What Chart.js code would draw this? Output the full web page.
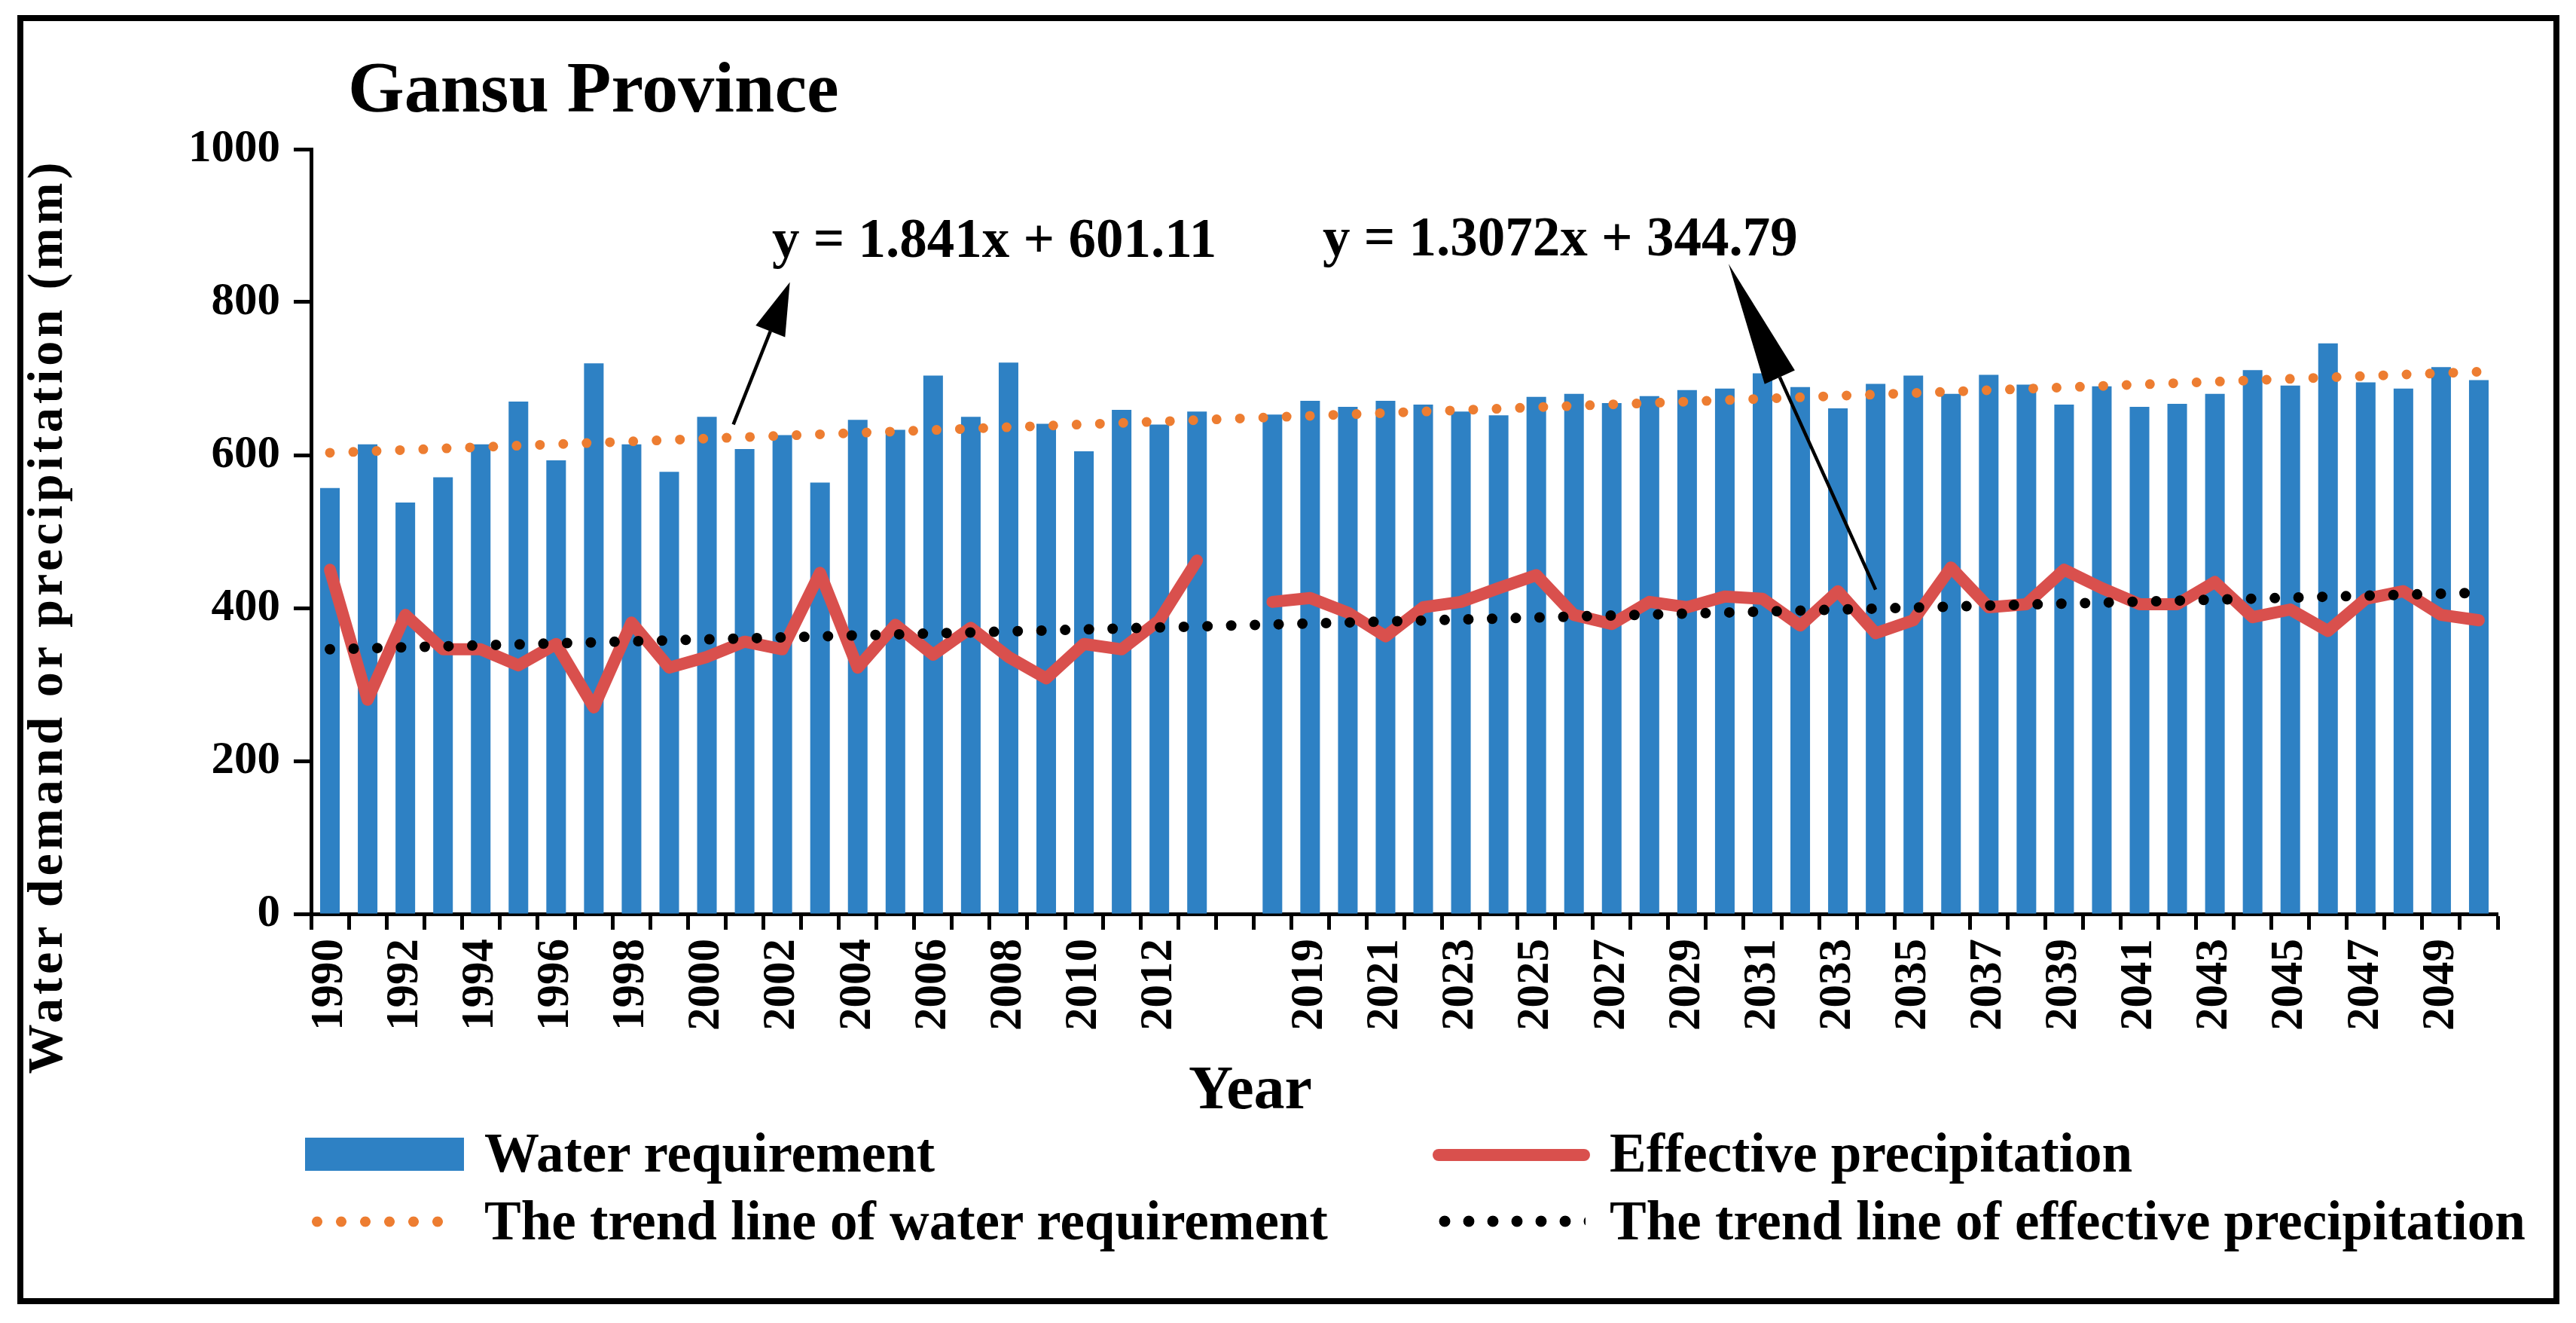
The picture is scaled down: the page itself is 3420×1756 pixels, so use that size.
<!DOCTYPE html>
<html lang="en">
<head>
<meta charset="UTF-8">
<title>Gansu Province</title>
<script src="https://cdn.jsdelivr.net/npm/chart.js"></script>
<style>
  html, body { margin: 0; padding: 0; background: #fff; }
  #wrap { position: relative; width: 3420px; height: 1756px; overflow: hidden;
          font-family: "Liberation Serif", "Times New Roman", serif; font-weight: bold; color: #000; }
  #chart { position: absolute; left: 0; top: 0; }
  .frame { position: absolute; left: 23px; top: 20px; width: 3375px; height: 1711px;
           border: 8px solid #000; box-sizing: border-box; pointer-events: none; }
  .txt { position: absolute; white-space: nowrap; line-height: 1; }
  .ytitle { position: absolute; white-space: nowrap; line-height: 1; font-size: 66px; letter-spacing: 5px;
            transform: translate(-50%, -50%) rotate(-90deg); }
  .sw { position: absolute; }
</style>
</head>
<body>
<div id="wrap">
  <canvas id="chart" width="3420" height="1756"></canvas>
  <div class="frame"></div>
  <div class="ytitle" style="left:60px; top:818px;">Water demand or precipitation (mm)</div>
</div>

<script>
    // categories (one empty slot between 2013 and 2018)
    const categories = ['1990', '1991', '1992', '1993', '1994', '1995', '1996', '1997', '1998', '1999',
        '2000', '2001', '2002', '2003', '2004', '2005', '2006', '2007', '2008', '2009',
        '2010', '2011', '2012', '2013', '',
        '2018', '2019', '2020', '2021', '2022', '2023', '2024', '2025', '2026', '2027',
        '2028', '2029', '2030', '2031', '2032', '2033', '2034', '2035', '2036', '2037',
        '2038', '2039', '2040', '2041', '2042', '2043', '2044', '2045', '2046', '2047',
        '2048', '2049', '2050']

    const waterRequirement = [557, 614, 538, 571, 614, 670, 593, 720, 614, 578,
        650, 608, 626, 564, 646, 633, 704, 650, 721, 641,
        605, 659, 640, 657, null,
        653, 671, 663, 671, 666, 657, 652, 676, 680, 668,
        677, 685, 687, 707, 689, 661, 693, 704, 680, 705,
        692, 666, 690, 663, 667, 680, 711, 691, 746, 695,
        687, 715, 698]

    const effectivePrecipitation = [450, 280, 391, 346, 346, 325, 353, 270, 381, 322,
        336, 356, 346, 446, 322, 378, 339, 374, 336, 308,
        353, 346, 384, 462, null,
        408, 413, 394, 363, 401, 408, 426, 443, 391, 379,
        408, 401, 415, 412, 377, 422, 367, 384, 453, 401,
        405, 450, 426, 405, 405, 434, 388, 398, 370, 412,
        422, 391, 384]

    // trend lines: value at the first and at the last category
    const trendWaterEnds = [603, 709]
    const trendPrecipEnds = [346, 420]

    const yTicks = [0, 200, 400, 600, 800, 1000]

    const equations = ['y = 1.841x + 601.11', 'y = 1.3072x + 344.79']

    // arrows from trend line to equation, [category index, value]
    const arrows = [
        { from: [10.7, 640], to: [12.2, 826], headLen: 70, headWidth: 42 },
        { from: [41.0, 424], to: [37.1, 850], headLen: 165, headWidth: 44 }
    ]

    const last = categories.length - 1
    function ends(pair) {
        return categories.map(function (c, i) {
            if (i == 0) return pair[0]
            if (i == last) return pair[1]
            return null
        })
    }

    const FONT = '"Liberation Serif", "Times New Roman", serif'
    const wrap = document.getElementById('wrap')

    // place a text so its baseline sits at y
    function putText(text, left, baseline, size) {
        var d = document.createElement('div')
        d.className = 'txt'
        d.textContent = text
        d.style.fontSize = size + 'px'
        d.style.left = left + 'px'
        d.style.top = (baseline - 0.8375 * size) + 'px'
        wrap.appendChild(d)
        return d
    }

    putText('Gansu Province', 462, 148, 96)
    putText(equations[0], 1025, 341, 73)
    putText(equations[1], 1756, 339, 73)
    putText('Year', 1578, 1472, 82)

    const arrowPlugin = {
        id: 'eqArrows',
        afterDatasetsDraw(chart) {
            const ctx = chart.ctx
            const x = chart.scales.x, y = chart.scales.y
            ctx.save()
            ctx.fillStyle = '#000'
            ctx.strokeStyle = '#000'
            ctx.lineWidth = 4.5
            arrows.forEach(function (a) {
                const x0 = x.getPixelForValue(a.from[0]), y0 = y.getPixelForValue(a.from[1])
                const x1 = x.getPixelForValue(a.to[0]), y1 = y.getPixelForValue(a.to[1])
                const ang = Math.atan2(y1 - y0, x1 - x0)
                const bx = x1 - a.headLen * Math.cos(ang), by = y1 - a.headLen * Math.sin(ang)
                ctx.beginPath()
                ctx.moveTo(x0, y0)
                ctx.lineTo(bx, by)
                ctx.stroke()
                const nx = -Math.sin(ang) * a.headWidth / 2, ny = Math.cos(ang) * a.headWidth / 2
                ctx.beginPath()
                ctx.moveTo(x1, y1)
                ctx.lineTo(bx + nx, by + ny)
                ctx.lineTo(bx - nx, by - ny)
                ctx.closePath()
                ctx.fill()
            })
            ctx.restore()
        }
    }

    const BLUE = '#2e81c4'
    const RED = '#d9504d'
    const ORANGE = '#ed7d31'

    const chart = new Chart(document.getElementById('chart'), {
        type: 'bar',
        data: {
            labels: categories,
            datasets: [{
                type: 'bar',
                label: 'Water requirement',
                data: waterRequirement,
                backgroundColor: BLUE,
                categoryPercentage: 1,
                barPercentage: 0.52,
                order: 4
            }, {
                type: 'line',
                label: 'Effective precipitation',
                data: effectivePrecipitation,
                borderColor: RED,
                borderWidth: 16,
                borderCapStyle: 'round',
                borderJoinStyle: 'round',
                pointRadius: 0,
                spanGaps: false,
                tension: 0,
                order: 3
            }, {
                type: 'line',
                label: 'The trend line of water requirement',
                data: ends(trendWaterEnds),
                borderColor: ORANGE,
                borderWidth: 13,
                borderDash: [0, 31],
                borderCapStyle: 'round',
                pointRadius: 0,
                spanGaps: true,
                order: 2
            }, {
                type: 'line',
                label: 'The trend line of effective precipitation',
                data: ends(trendPrecipEnds),
                borderColor: '#000',
                borderWidth: 14,
                borderDash: [0, 31.5],
                borderCapStyle: 'round',
                pointRadius: 0,
                spanGaps: true,
                order: 1
            }]
        },
        options: {
            responsive: false,
            animation: false,
            devicePixelRatio: 1,
            layout: { padding: { top: 198, right: 104, bottom: 0, left: 0 } },
            scales: {
                x: {
                    offset: true,
                    afterFit: function (s) { s.height = 543 },
                    border: { display: true, color: '#000', width: 5 },
                    grid: { display: true, offset: true, drawOnChartArea: false, drawTicks: true,
                        tickLength: 21, tickWidth: 5, tickColor: '#000' },
                    ticks: {
                        autoSkip: false, minRotation: 90, maxRotation: 90, padding: 12,
                        color: '#000', font: { family: FONT, size: 61, weight: 'bold' },
                        callback: function (v, i) { return i % 2 == 0 ? categories[i] : '' }
                    }
                },
                y: {
                    min: 0,
                    max: 1000,
                    afterFit: function (s) { s.width = 413 },
                    afterBuildTicks: function (s) { s.ticks = yTicks.map(function (v) { return { value: v } }) },
                    border: { display: true, color: '#000', width: 5 },
                    grid: { display: true, drawOnChartArea: false, drawTicks: true,
                        tickLength: 23, tickWidth: 5, tickColor: '#000' },
                    ticks: {
                        padding: 18, color: '#000', font: { family: FONT, size: 61, weight: 'bold' },
                        callback: function (v) { return String(v) }
                    }
                }
            },
            plugins: {
                legend: { display: false },
                tooltip: { enabled: false },
                title: { display: false }
            }
        },
        plugins: [arrowPlugin]
    })

    // legend built from the datasets
    const slots = [
        { kind: 'box', x: 405, w: 211, cy: 1532, tx: 643, base: 1555 },
        { kind: 'line', x: 1902, w: 209, cy: 1533, tx: 2137, base: 1555 },
        { kind: 'dots', x: 405, w: 200, cy: 1621, tx: 643, base: 1645, gap: 32, r: 6.5 },
        { kind: 'dots', x: 1902, w: 203, cy: 1621, tx: 2137, base: 1645, gap: 32, r: 7 }
    ]
    chart.data.datasets.forEach(function (ds, i) {
        var s = slots[i]
        var sw = document.createElement('div')
        sw.className = 'sw'
        sw.style.left = s.x + 'px'
        sw.style.width = s.w + 'px'
        if (s.kind == 'box') {
            sw.style.top = (s.cy - 22) + 'px'
            sw.style.height = '44px'
            sw.style.background = ds.backgroundColor
        } else if (s.kind == 'line') {
            sw.style.top = (s.cy - 8) + 'px'
            sw.style.height = '16px'
            sw.style.borderRadius = '8px'
            sw.style.background = ds.borderColor
        } else {
            var h = s.r * 2 + 2
            sw.style.top = (s.cy - h / 2) + 'px'
            sw.style.height = h + 'px'
            sw.style.backgroundImage = 'radial-gradient(circle, ' + ds.borderColor + ' ' + s.r + 'px, transparent ' + (s.r + 0.8) + 'px)'
            sw.style.backgroundSize = s.gap + 'px ' + h + 'px'
        }
        wrap.appendChild(sw)
        putText(ds.label, s.tx, s.base, 73)
    })
</script>
</body>
</html>
